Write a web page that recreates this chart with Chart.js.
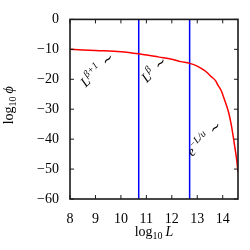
<!DOCTYPE html>
<html>
<head>
<meta charset="utf-8">
<script src="https://cdn.jsdelivr.net/npm/chart.js@4"></script>
<style>
  html, body { margin: 0; padding: 0; background: #fff; }
  #wrap { width: 250px; height: 250px; }
</style>
</head>
<body>
<div id="wrap"><canvas id="phiChart" width="250" height="250"></canvas></div>
<script>
// values
const logL   = [8.0, 9.0, 10.0, 10.7, 11.5, 12.0, 12.35, 12.7, 13.0, 13.14, 13.35, 13.53, 13.73, 13.8, 13.93, 14.06, 14.23, 14.32, 14.41, 14.5, 14.55, 14.6];
const logPhi = [-10.0, -10.4, -10.8, -11.5, -12.6, -13.3, -14.1, -14.7, -15.6, -16.3, -17.5, -19.0, -20.6, -21.8, -23.6, -26.6, -31.0, -34.5, -39.0, -44.0, -47.0, -51.0];
const markerL = [10.7, 12.7];
const xTicks = [8, 9, 10, 11, 12, 13, 14];
const yTicks = [0, -10, -20, -30, -40, -50, -60];
const notes = [
    {base: 'L', sup: 'β+1', at: [8.62, -22.8]},
    {base: 'L', sup: 'β', at: [11.02, -21.3]},
    {base: 'e', sup: '−L/u', at: [12.8, -46.0]}
];

const serif = '"Liberation Serif", "DejaVu Serif", serif';

// draws a row of text pieces, each with its own font and vertical shift
function drawPieces(ctx, pieces, x, y, angle, center) {
    ctx.save();
    ctx.translate(x, y);
    ctx.rotate(angle);
    ctx.fillStyle = '#000';
    ctx.textBaseline = 'alphabetic';
    ctx.textAlign = 'left';
    let total = 0;
    pieces.forEach(p => { ctx.font = p.font; total += ctx.measureText(p.t).width + (p.gap || 0); });
    let cx = center ? -total / 2 : 0;
    pieces.forEach(p => {
        ctx.font = p.font;
        cx += (p.gap || 0);
        ctx.fillText(p.t, cx, p.dy || 0);
        cx += ctx.measureText(p.t).width;
    });
    ctx.restore();
}

const framePlugin = {
    id: 'frame',
    afterDatasetsDraw(chart) {
        const {ctx, chartArea: a, scales: {x, y}} = chart;
        ctx.save();
        ctx.strokeStyle = '#1a1a1a';
        ctx.lineWidth = 1.6;
        ctx.strokeRect(a.left, a.top, a.right - a.left, a.bottom - a.top);
        ctx.lineWidth = 1;
        ctx.beginPath();
        xTicks.forEach(v => {
            const px = x.getPixelForValue(v);
            ctx.moveTo(px, a.bottom); ctx.lineTo(px, a.bottom - 4);
            ctx.moveTo(px, a.top); ctx.lineTo(px, a.top + 4);
        });
        yTicks.forEach(v => {
            const py = y.getPixelForValue(v);
            ctx.moveTo(a.left, py); ctx.lineTo(a.left + 4, py);
            ctx.moveTo(a.right, py); ctx.lineTo(a.right - 4, py);
        });
        ctx.stroke();
        ctx.restore();

        // curve annotations
        notes.forEach(n => {
            drawPieces(ctx, [
                {t: n.base, font: 'italic 14px ' + serif},
                {t: n.sup, font: 'italic 10px ' + serif, dy: -6},
                {t: '∼', font: '14px ' + serif, gap: 5}
            ], x.getPixelForValue(n.at[0]), y.getPixelForValue(n.at[1]), -Math.PI / 4, false);
        });

        // axis titles
        drawPieces(ctx, [
            {t: 'log', font: '14px ' + serif},
            {t: '10', font: '10px ' + serif, dy: 3},
            {t: 'L', font: 'italic 14px ' + serif, gap: 3}
        ], (a.left + a.right) / 2, 236, 0, true);
        drawPieces(ctx, [
            {t: 'log', font: '14px ' + serif},
            {t: '10', font: '10px ' + serif, dy: 3},
            {t: 'ϕ', font: 'italic 14px ' + serif, gap: 3}
        ], 13, (a.top + a.bottom) / 2 - 4, -Math.PI / 2, true);
    }
};

const datasets = [{
    data: logL.map((v, i) => ({x: v, y: logPhi[i]})),
    borderColor: 'red',
    borderWidth: 1.5,
    pointRadius: 0,
    cubicInterpolationMode: 'monotone'
}];
markerL.forEach(v => {
    datasets.push({
        data: [{x: v, y: yTicks[yTicks.length - 1]}, {x: v, y: yTicks[0]}],
        borderColor: 'blue',
        borderWidth: 1.5,
        pointRadius: 0
    });
});

new Chart(document.getElementById('phiChart'), {
    type: 'line',
    data: {datasets: datasets},
    options: {
        responsive: false,
        animation: false,
        events: [],
        layout: {padding: {top: 19, right: 12, left: 0, bottom: 0}},
        plugins: {legend: {display: false}, tooltip: {enabled: false}},
        scales: {
            x: {
                type: 'linear',
                min: 8,
                max: 14.6,
                grid: {display: false, drawTicks: false},
                border: {display: false},
                afterBuildTicks: s => { s.ticks = xTicks.map(v => ({value: v})); },
                afterFit: s => { s.height = 51; },
                ticks: {
                    color: '#000',
                    padding: 12,
                    maxRotation: 0,
                    font: {family: serif, size: 14}
                }
            },
            y: {
                min: -60,
                max: 0,
                grid: {display: false, drawTicks: false},
                border: {display: false},
                afterBuildTicks: s => { s.ticks = yTicks.map(v => ({value: v})); },
                afterFit: s => { s.width = 70; },
                ticks: {
                    color: '#000',
                    padding: 11,
                    font: {family: serif, size: 14},
                    callback: v => String(v).replace('-', '−')
                }
            }
        }
    },
    plugins: [framePlugin]
});
</script>
</body>
</html>
